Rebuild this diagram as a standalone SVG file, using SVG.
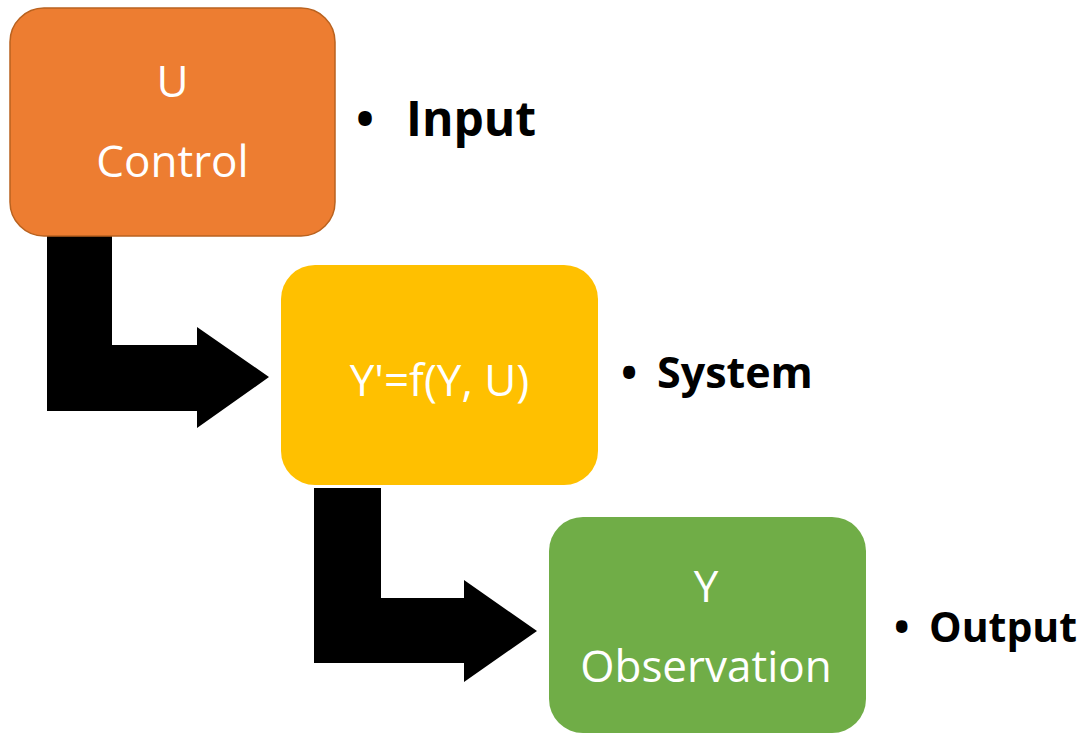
<svg xmlns="http://www.w3.org/2000/svg" width="1083" height="736" viewBox="0 0 1083 736">
<style>
.box-text{font-family:"Open Sans","Noto Sans","DejaVu Sans",sans-serif;font-size:44px;fill:#ffffff;text-anchor:middle}
.label{font-family:"Open Sans","Noto Sans","DejaVu Sans",sans-serif;font-weight:bold;fill:#000000}
.arrow{fill:#000000}
</style>
<rect width="1083" height="736" fill="#ffffff"/>
<g id="connectors">
<polygon class="arrow" points="47,232 112,232 112,345 197,345 197,327 269,377 197,428 197,411 47,411"/>
<polygon class="arrow" points="314,488 381,488 381,598 464,598 464,580 537,631 464,682 464,663 314,663"/>
</g>
<g id="node-control">
<rect x="10" y="8" width="325" height="228" rx="34" ry="34" fill="#ED7D31" stroke="#B9621F" stroke-width="1.5"/>
<text class="box-text" x="172.5" y="97">U</text>
<text class="box-text" x="172.5" y="177">Control</text>
</g>
<g id="node-system">
<rect x="281" y="265" width="317" height="220" rx="34" ry="34" fill="#FFC000"/>
<text class="box-text" x="439.5" y="396">Y'=f(Y, U)</text>
</g>
<g id="node-observation">
<rect x="549" y="517" width="317" height="216" rx="34" ry="34" fill="#70AD47"/>
<text class="box-text" x="706" y="602">Y</text>
<text class="box-text" x="706" y="682">Observation</text>
</g>
<g id="label-input">
<text class="label" x="356" y="136" font-size="48">•<tspan x="406">Input</tspan></text>
</g>
<g id="label-system">
<text class="label" x="621" y="388" font-size="43">•<tspan x="657">System</tspan></text>
</g>
<g id="label-output">
<text class="label" x="894" y="642" font-size="41">•<tspan x="929">Output</tspan></text>
</g>
</svg>
